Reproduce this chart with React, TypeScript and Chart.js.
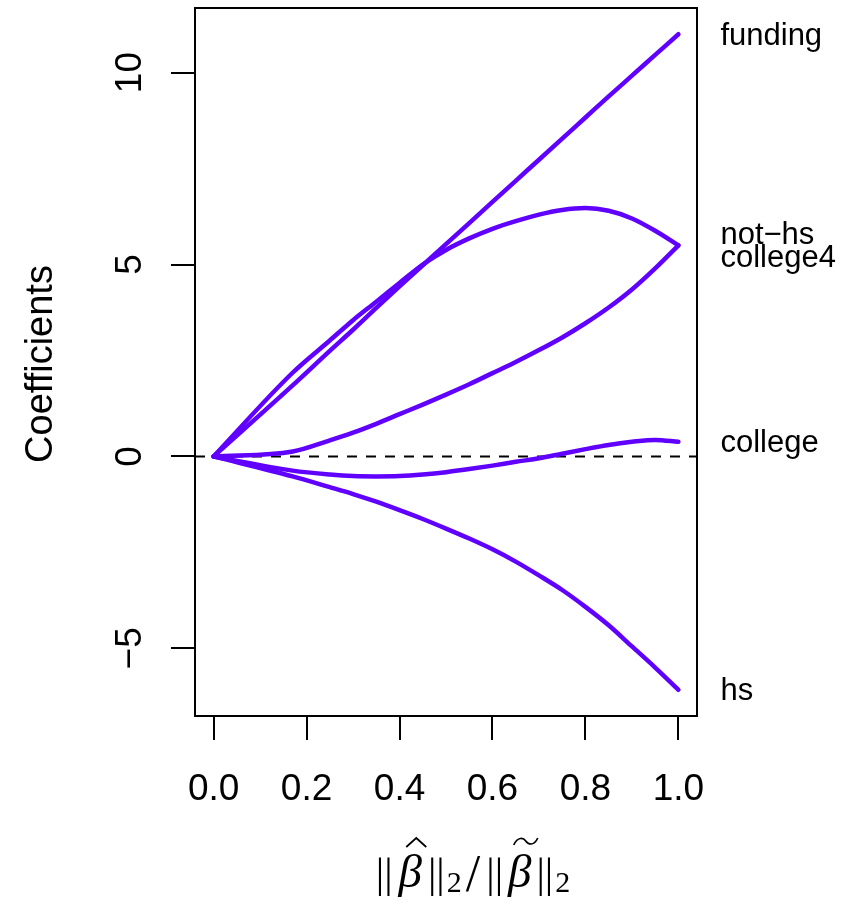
import React, { useEffect, useRef } from "react";
import { Chart, registerables } from "chart.js";

Chart.register(...registerables);

// Relative size of the coefficient vector along the ridge path
const shrinkage = [0, 0.17, 0.25, 0.3, 0.35, 0.4, 0.45, 0.5, 0.55, 0.6, 0.65, 0.7, 0.75, 0.8, 0.85, 0.9, 0.95, 1.0];

// Coefficient paths
const funding = [0, 1.85, 2.75, 3.3, 3.87, 4.43, 4.98, 5.53, 6.08, 6.63, 7.18, 7.73, 8.28, 8.83, 9.38, 9.92, 10.46, 11.0];
const notHs = [0, 2.18, 3.02, 3.55, 4.03, 4.52, 5.0, 5.38, 5.68, 5.93, 6.13, 6.3, 6.42, 6.47, 6.4, 6.2, 5.88, 5.5];
const college4 = [0, 0.13, 0.42, 0.62, 0.85, 1.1, 1.35, 1.61, 1.88, 2.17, 2.46, 2.77, 3.1, 3.47, 3.88, 4.35, 4.9, 5.5];
const college = [0, -0.37, -0.47, -0.51, -0.52, -0.51, -0.47, -0.41, -0.33, -0.24, -0.14, -0.05, 0.07, 0.19, 0.3, 0.38, 0.43, 0.38];
const hs = [0, -0.52, -0.8, -0.98, -1.18, -1.4, -1.63, -1.88, -2.14, -2.42, -2.74, -3.1, -3.48, -3.92, -4.4, -4.95, -5.5, -6.08];

const seriesNames = ["funding", "not\u2212hs", "college4", "college", "hs"];
const seriesValues = [funding, notHs, college4, college, hs];

const xTicks = [0, 0.2, 0.4, 0.6, 0.8, 1.0];
const yTicks = [-5, 0, 5, 10];
const xLimits = [-0.04, 1.04];
const yLimits = [-6.763, 11.683];

const PATH_COLOR = "#6000ff";
const SANS = "'Liberation Sans', Arial, Helvetica, sans-serif";
const SERIF = "'Liberation Serif', 'DejaVu Serif', 'Times New Roman', serif";

function drawMathTitle(ctx: CanvasRenderingContext2D, cx: number, baseline: number) {
  const big = `42px ${SERIF}`;
  const slash = `52px ${SERIF}`;
  const ital = `italic 47px ${SERIF}`;
  const sub = `30px ${SERIF}`;
  type Part = { t: string; f: string; dy?: number; gap?: number; accent?: "hat" | "tilde" };
  const parts: Part[] = [
    { t: "||", f: big, gap: 6 },
    { t: "\u03b2", f: ital, accent: "hat", gap: 6 },
    { t: "||", f: big, gap: 2 },
    { t: "2", f: sub, dy: 5, gap: 4 },
    { t: "/", f: slash, dy: 4, gap: 6 },
    { t: "||", f: big, gap: 5 },
    { t: "\u03b2", f: ital, accent: "tilde", gap: 5 },
    { t: "||", f: big, gap: 2 },
    { t: "2", f: sub, dy: 5, gap: 0 },
  ];
  let total = 0;
  const widths = parts.map((p) => {
    ctx.font = p.f;
    const w = ctx.measureText(p.t).width;
    total += w + (p.gap ?? 0);
    return w;
  });
  let x = cx - total / 2;
  ctx.save();
  ctx.fillStyle = "#000";
  ctx.strokeStyle = "#000";
  ctx.textAlign = "left";
  ctx.textBaseline = "alphabetic";
  parts.forEach((p, i) => {
    ctx.font = p.f;
    ctx.fillText(p.t, x, baseline + (p.dy ?? 0));
    if (p.accent) {
      const mid = x + widths[i] / 2 + 6;
      const top = baseline - 40;
      ctx.lineWidth = 1.7;
      ctx.beginPath();
      if (p.accent === "hat") {
        ctx.moveTo(mid - 10, top);
        ctx.lineTo(mid, top - 9);
        ctx.lineTo(mid + 10, top);
      } else {
        ctx.moveTo(mid - 12, top - 2);
        ctx.bezierCurveTo(mid - 8, top - 11, mid - 2, top - 9, mid, top - 6);
        ctx.bezierCurveTo(mid + 2, top - 3, mid + 8, top, mid + 12, top - 9);
      }
      ctx.stroke();
    }
    x += widths[i] + (p.gap ?? 0);
  });
  ctx.restore();
}

const decorations = {
  id: "pathDecorations",
  afterDraw(chart: any) {
    const { ctx, chartArea, scales } = chart;
    const xs = scales.x;
    const ys = scales.y;
    ctx.save();

    // plot frame
    ctx.strokeStyle = "#000";
    ctx.lineWidth = 2;
    ctx.strokeRect(chartArea.left, chartArea.top, chartArea.right - chartArea.left, chartArea.bottom - chartArea.top);

    // y tick labels, written along the axis
    ctx.fillStyle = "#000";
    ctx.font = `37px ${SANS}`;
    ctx.textAlign = "center";
    ctx.textBaseline = "alphabetic";
    yTicks.forEach((v) => {
      const py = ys.getPixelForValue(v);
      ctx.save();
      ctx.translate(chartArea.left - 54, py);
      ctx.rotate(-Math.PI / 2);
      ctx.fillText(String(v).replace("-", "\u2212"), 0, 0);
      ctx.restore();
    });

    // y axis title
    ctx.font = `38px ${SANS}`;
    ctx.save();
    ctx.translate(52, (chartArea.top + chartArea.bottom) / 2 + 2);
    ctx.rotate(-Math.PI / 2);
    ctx.fillText("Coefficients", 0, 0);
    ctx.restore();

    // variable names at the end of each path, spread apart when they collide
    const endX = xs.getPixelForValue(shrinkage[shrinkage.length - 1]) + 42;
    const labels = seriesNames.map((name, i) => ({
      name,
      y: ys.getPixelForValue(seriesValues[i][seriesValues[i].length - 1]),
    }));
    labels.sort((a, b) => a.y - b.y);
    const minGap = 23;
    for (let i = 1; i < labels.length; i++) {
      if (labels[i].y - labels[i - 1].y < minGap) {
        const mid = (labels[i].y + labels[i - 1].y) / 2;
        labels[i - 1].y = mid - minGap / 2;
        labels[i].y = mid + minGap / 2;
      }
    }
    ctx.font = `31px ${SANS}`;
    ctx.textAlign = "left";
    ctx.textBaseline = "middle";
    labels.forEach((l) => ctx.fillText(l.name, endX, l.y + 2));

    // x axis title
    drawMathTitle(ctx, (chartArea.left + chartArea.right) / 2 + 27, 887);

    ctx.restore();
  },
};

export default function App() {
  const canvasRef = useRef<HTMLCanvasElement | null>(null);

  useEffect(() => {
    document.body.style.margin = "0";
    const canvas = canvasRef.current;
    if (!canvas) return;

    const pathSets = seriesNames.map((name, i) => ({
      label: name,
      data: shrinkage.map((s, j) => ({ x: s, y: seriesValues[i][j] })),
      borderColor: PATH_COLOR,
      backgroundColor: PATH_COLOR,
      borderWidth: 4.5,
      pointRadius: 0,
      cubicInterpolationMode: "monotone" as const,
      borderJoinStyle: "round" as const,
      borderCapStyle: "round" as const,
      fill: false,
    }));

    const zeroLine = {
      label: "zero",
      data: [
        { x: xLimits[0], y: 0 },
        { x: xLimits[1], y: 0 },
      ],
      borderColor: "#000",
      borderWidth: 2,
      borderDash: [10, 9],
      pointRadius: 0,
      fill: false,
    };

    const tickGrid = {
      drawOnChartArea: false,
      drawTicks: true,
      tickLength: 24,
      color: "#000",
      lineWidth: 2,
    };

    const chart = new Chart(canvas, {
      type: "line",
      data: { datasets: [...pathSets, zeroLine] as any },
      options: {
        animation: false,
        responsive: false,
        events: [],
        parsing: false,
        layout: { padding: { top: 8, right: 157, left: 0, bottom: 0 } },
        plugins: { legend: { display: false }, tooltip: { enabled: false } },
        scales: {
          x: {
            type: "linear",
            min: xLimits[0],
            max: xLimits[1],
            afterBuildTicks: (s: any) => {
              s.ticks = xTicks.map((v) => ({ value: v }));
            },
            afterFit: (s: any) => {
              s.height = 907 - 716;
            },
            grid: tickGrid,
            border: { display: false },
            ticks: {
              color: "#000",
              font: { family: SANS, size: 37 },
              padding: 28,
              maxRotation: 0,
              autoSkip: false,
              callback: (v: any) => Number(v).toFixed(1),
            },
          },
          y: {
            type: "linear",
            min: yLimits[0],
            max: yLimits[1],
            afterBuildTicks: (s: any) => {
              s.ticks = yTicks.map((v) => ({ value: v }));
            },
            afterFit: (s: any) => {
              s.width = 195;
            },
            grid: tickGrid,
            border: { display: false },
            ticks: { display: false },
          },
        },
      },
      plugins: [decorations],
    });

    return () => chart.destroy();
  }, []);

  return <canvas ref={canvasRef} width={854} height={907} style={{ display: "block" }} />;
}
